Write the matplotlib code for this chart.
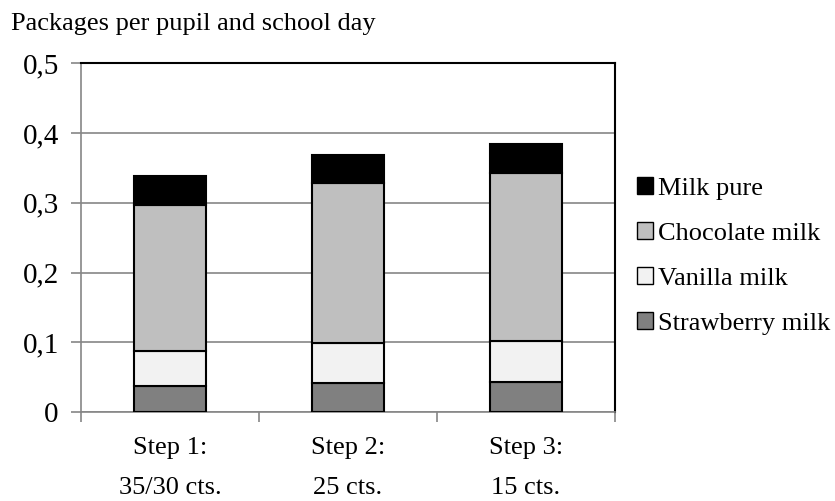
import numpy as np
import matplotlib
matplotlib.use("Agg")
import matplotlib.pyplot as plt
from matplotlib.patches import Patch

# ── Data ─────────────────────────────────────────────────────────────────────
steps = ["Step 1:\n35/30 cts.", "Step 2:\n25 cts.", "Step 3:\n15 cts."]
strawberry = [0.037, 0.042, 0.043]
vanilla    = [0.051, 0.057, 0.059]
chocolate  = [0.209, 0.229, 0.241]
milk_pure  = [0.041, 0.041, 0.041]

series = [("Strawberry milk", strawberry, "#808080"),
          ("Vanilla milk",    vanilla,    "#f2f2f2"),
          ("Chocolate milk",  chocolate,  "#bfbfbf"),
          ("Milk pure",       milk_pure,  "#000000")]

plt.rcParams["font.family"] = ["Liberation Serif", "DejaVu Serif"]
grid_c = "#868686"

fig = plt.figure(figsize=(8.35, 5.01), dpi=100)
ax = fig.add_axes([0.097, 0.177, 0.6395, 0.697])

x = np.arange(len(steps))
bottom = np.zeros(len(steps))
for name, vals, col in series:
    ax.bar(x, vals, width=0.40, bottom=bottom, color=col,
           edgecolor="black", linewidth=1.5, zorder=3)
    bottom += np.array(vals)

ax.set_xlim(-0.5, 2.5)
ax.set_ylim(0, 0.5)
ax.set_yticks(np.arange(0, 0.51, 0.1))
ax.set_yticklabels(["0", "0,1", "0,2", "0,3", "0,4", "0,5"], fontsize=21)
ax.yaxis.grid(True, color=grid_c, lw=1.2, zorder=0)

ax.set_xticks(x)
ax.set_xticklabels(steps, fontsize=19, linespacing=2.05)
ax.tick_params(axis="x", which="major", length=0, pad=18)
ax.set_xticks([-0.5, 0.5, 1.5, 2.5], minor=True)
ax.tick_params(axis="x", which="minor", length=7, color=grid_c, width=1.2)
ax.tick_params(axis="y", length=7, color=grid_c, width=1.2, pad=9)

ax.spines["left"].set_color(grid_c)
ax.spines["bottom"].set_color(grid_c)
ax.spines["left"].set_linewidth(1.2)
ax.spines["bottom"].set_linewidth(1.2)
ax.spines["top"].set_color("black")
ax.spines["right"].set_color("black")
ax.spines["top"].set_linewidth(1.5)
ax.spines["right"].set_linewidth(1.5)

fig.text(0.013, 0.952, "Packages per pupil and school day", fontsize=19,
         ha="left", va="center")

handles = [Patch(facecolor=col, edgecolor="black", lw=1, label=name)
           for name, vals, col in series[::-1]]
fig.legend(handles=handles, loc="center left", bbox_to_anchor=(0.750, 0.489),
           frameon=False, fontsize=19, handlelength=0.6, handleheight=0.6,
           handletextpad=0.2, labelspacing=0.85, borderaxespad=0)

fig.savefig("out.png", dpi=100)
